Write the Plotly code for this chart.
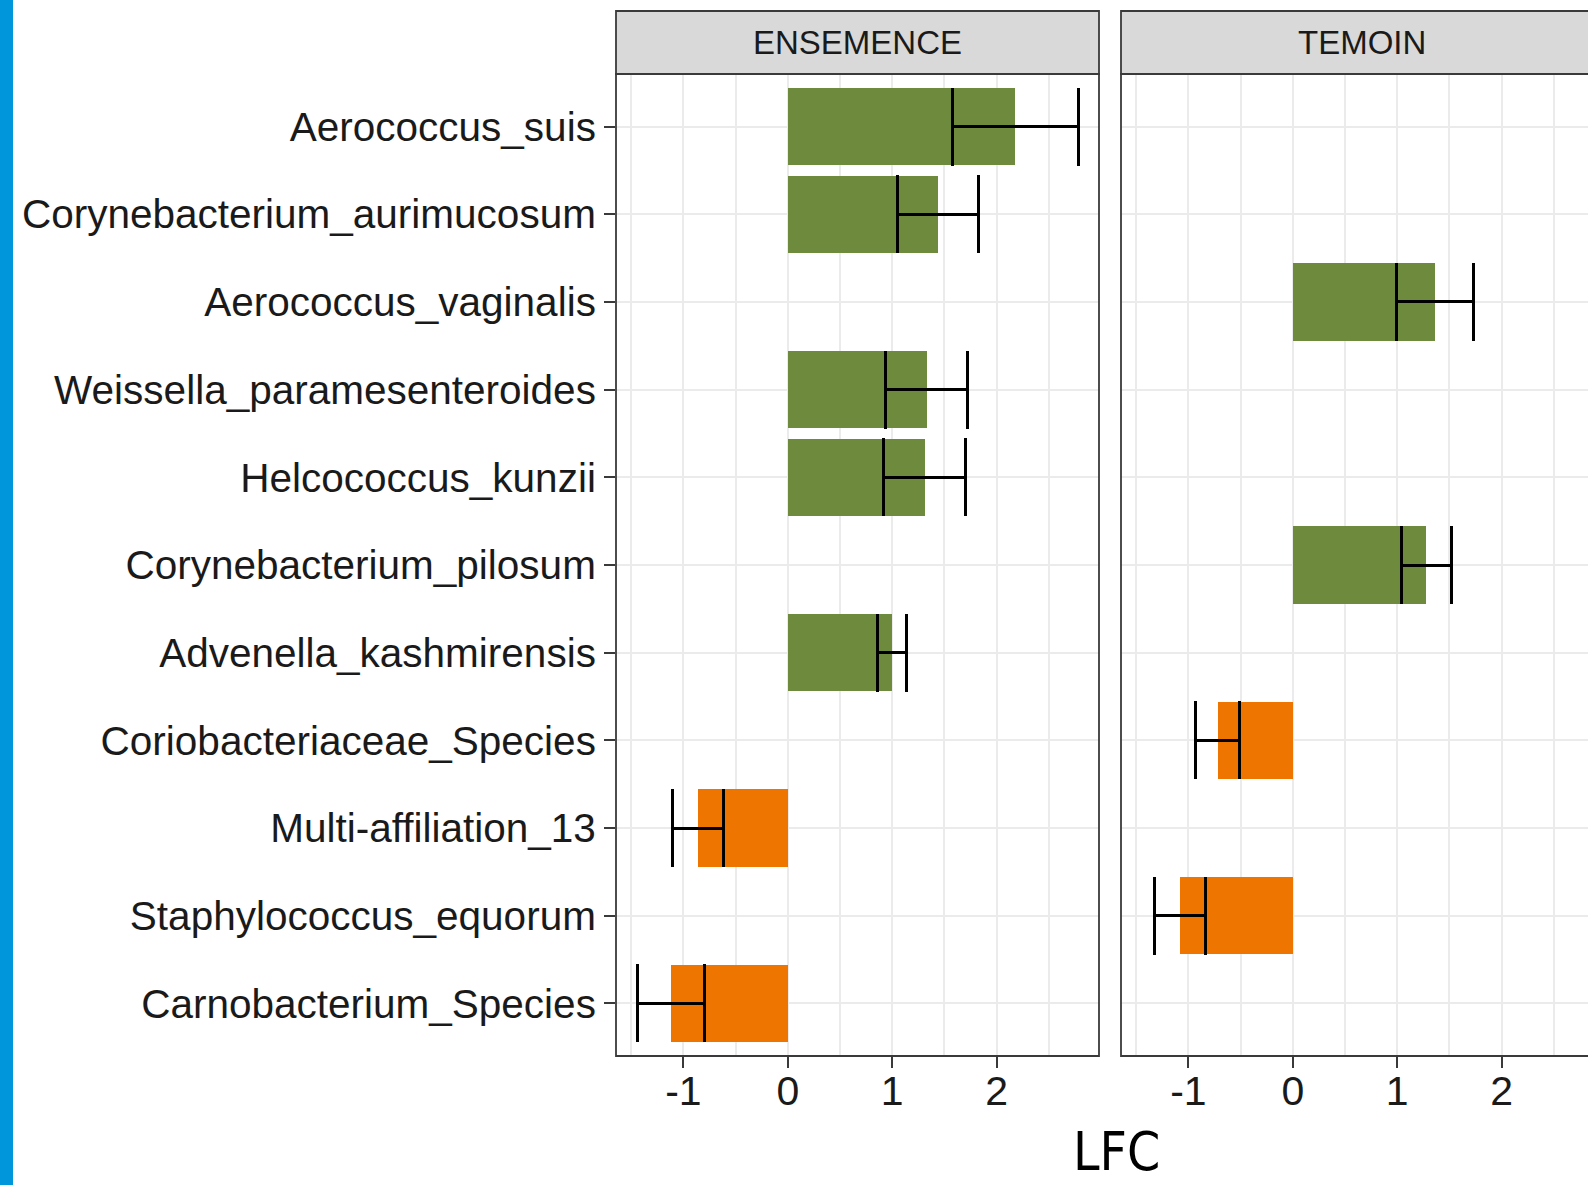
import plotly.graph_objects as go

# Taxa, listed bottom to top on the y axis
taxa = [
    "Carnobacterium_Species",
    "Staphylococcus_equorum",
    "Multi-affiliation_13",
    "Coriobacteriaceae_Species",
    "Advenella_kashmirensis",
    "Corynebacterium_pilosum",
    "Helcococcus_kunzii",
    "Weissella_paramesenteroides",
    "Aerococcus_vaginalis",
    "Corynebacterium_aurimucosum",
    "Aerococcus_suis",
]

# ENSEMENCE facet: log fold change and standard error
ens_taxa = [
    "Aerococcus_suis",
    "Corynebacterium_aurimucosum",
    "Weissella_paramesenteroides",
    "Helcococcus_kunzii",
    "Advenella_kashmirensis",
    "Multi-affiliation_13",
    "Carnobacterium_Species",
]
ens_lfc = [2.18, 1.44, 1.33, 1.31, 1.00, -0.86, -1.12]
ens_se = [0.60, 0.39, 0.39, 0.39, 0.14, 0.24, 0.32]

# TEMOIN facet
tem_taxa = [
    "Aerococcus_vaginalis",
    "Corynebacterium_pilosum",
    "Coriobacteriaceae_Species",
    "Staphylococcus_equorum",
]
tem_lfc = [1.36, 1.28, -0.72, -1.08]
tem_se = [0.37, 0.24, 0.21, 0.24]

facet_names = ["ENSEMENCE", "TEMOIN"]
x_ticks = [-1, 0, 1, 2]

W, H = 1588, 1185
POS, NEG = "#6E8B3D", "#EE7600"
GRID = "#EBEBEB"
FRAME = "#3A3A3A"
TXT = "#1A1A1A"
SANS = "Liberation Sans, Arial, sans-serif"

# panel geometry in pixels
p1_l, p1_r = 616, 1099
p2_l, p2_r = 1121, 1602
top, bot = 74, 1056
strip_top = 11
x_lo, x_hi = -1.645, 2.98
unit = (p1_r - p1_l) / (x_hi - x_lo)
x2_hi = x_lo + (W - p2_l) / unit


def px(v):
    return v / W


def py(v):
    return 1 - v / H


fig = go.Figure()


def bar_trace(names, vals, errs, xa, ya):
    return go.Bar(
        y=names,
        x=vals,
        orientation="h",
        width=0.88,
        marker=dict(color=[POS if v > 0 else NEG for v in vals], line=dict(width=0)),
        error_x=dict(type="data", array=errs, visible=True, color="black",
                     thickness=3, width=39),
        xaxis=xa,
        yaxis=ya,
        showlegend=False,
    )


fig.add_trace(bar_trace(ens_taxa, ens_lfc, ens_se, "x", "y"))
fig.add_trace(bar_trace(tem_taxa, tem_lfc, tem_se, "x2", "y2"))

xcommon = dict(
    tickvals=x_ticks,
    ticktext=[str(t) for t in x_ticks],
    showgrid=True,
    gridcolor=GRID,
    gridwidth=2,
    zeroline=False,
    ticks="outside",
    ticklen=11,
    tickwidth=2,
    tickcolor=FRAME,
    ticklabelstandoff=-12,
    tickfont=dict(family=SANS, size=41, color=TXT),
    minor=dict(tickvals=[-1.5, -0.5, 0.5, 1.5, 2.5], showgrid=True,
               gridcolor=GRID, gridwidth=1.5, ticks=""),
    showline=False,
    fixedrange=True,
)
ycommon = dict(
    type="category",
    categoryorder="array",
    categoryarray=taxa,
    range=[-0.6, 10.6],
    domain=[py(bot), py(top)],
    showgrid=True,
    gridcolor=GRID,
    gridwidth=2,
    zeroline=False,
    showline=False,
)

fig.update_layout(
    width=W,
    height=H,
    margin=dict(l=0, r=0, t=0, b=0),
    paper_bgcolor="white",
    plot_bgcolor="white",
    bargap=0,
    xaxis=dict(xcommon, domain=[px(p1_l), px(p1_r)], range=[x_lo, x_hi], anchor="y"),
    xaxis2=dict(xcommon, domain=[px(p2_l), 1.0], range=[x_lo, x2_hi], anchor="y2"),
    yaxis=dict(
        ycommon,
        anchor="x",
        ticks="outside",
        ticklen=11,
        tickwidth=2,
        tickcolor=FRAME,
        tickfont=dict(family=SANS, size=40.5, color=TXT),
    ),
    yaxis2=dict(ycommon, anchor="x2", matches="y", showticklabels=False, ticks=""),
)

shapes = []
# left colour band
shapes.append(dict(type="rect", xref="paper", yref="paper", x0=0, x1=px(13), y0=0, y1=1,
                   fillcolor="#0096DC", line=dict(width=0), layer="above"))
# panel frames and facet strips
for l, r, name in [(p1_l, p1_r, facet_names[0]), (p2_l, p2_r, facet_names[1])]:
    shapes.append(dict(type="rect", xref="paper", yref="paper",
                       x0=px(l), x1=px(r), y0=py(top), y1=py(strip_top),
                       fillcolor="#D9D9D9", line=dict(color=FRAME, width=1.8), layer="above"))
    shapes.append(dict(type="rect", xref="paper", yref="paper",
                       x0=px(l), x1=px(r), y0=py(bot), y1=py(top),
                       fillcolor="rgba(0,0,0,0)", line=dict(color=FRAME, width=1.8), layer="above"))
    fig.add_annotation(x=px((l + r) / 2), y=py((strip_top + top) / 2),
                       xref="paper", yref="paper",
                       text=name, showarrow=False, xanchor="center", yanchor="middle",
                       font=dict(family=SANS, size=33, color=TXT))

fig.update_layout(shapes=shapes)

# shared x-axis title
fig.add_annotation(x=px(1116), y=py(1184), xref="paper", yref="paper", text="LFC",
                   showarrow=False, xanchor="center", yanchor="bottom",
                   font=dict(family="DejaVu Sans Condensed, DejaVu Sans, sans-serif",
                             size=53, color="black"))

fig.write_html("out.html")
